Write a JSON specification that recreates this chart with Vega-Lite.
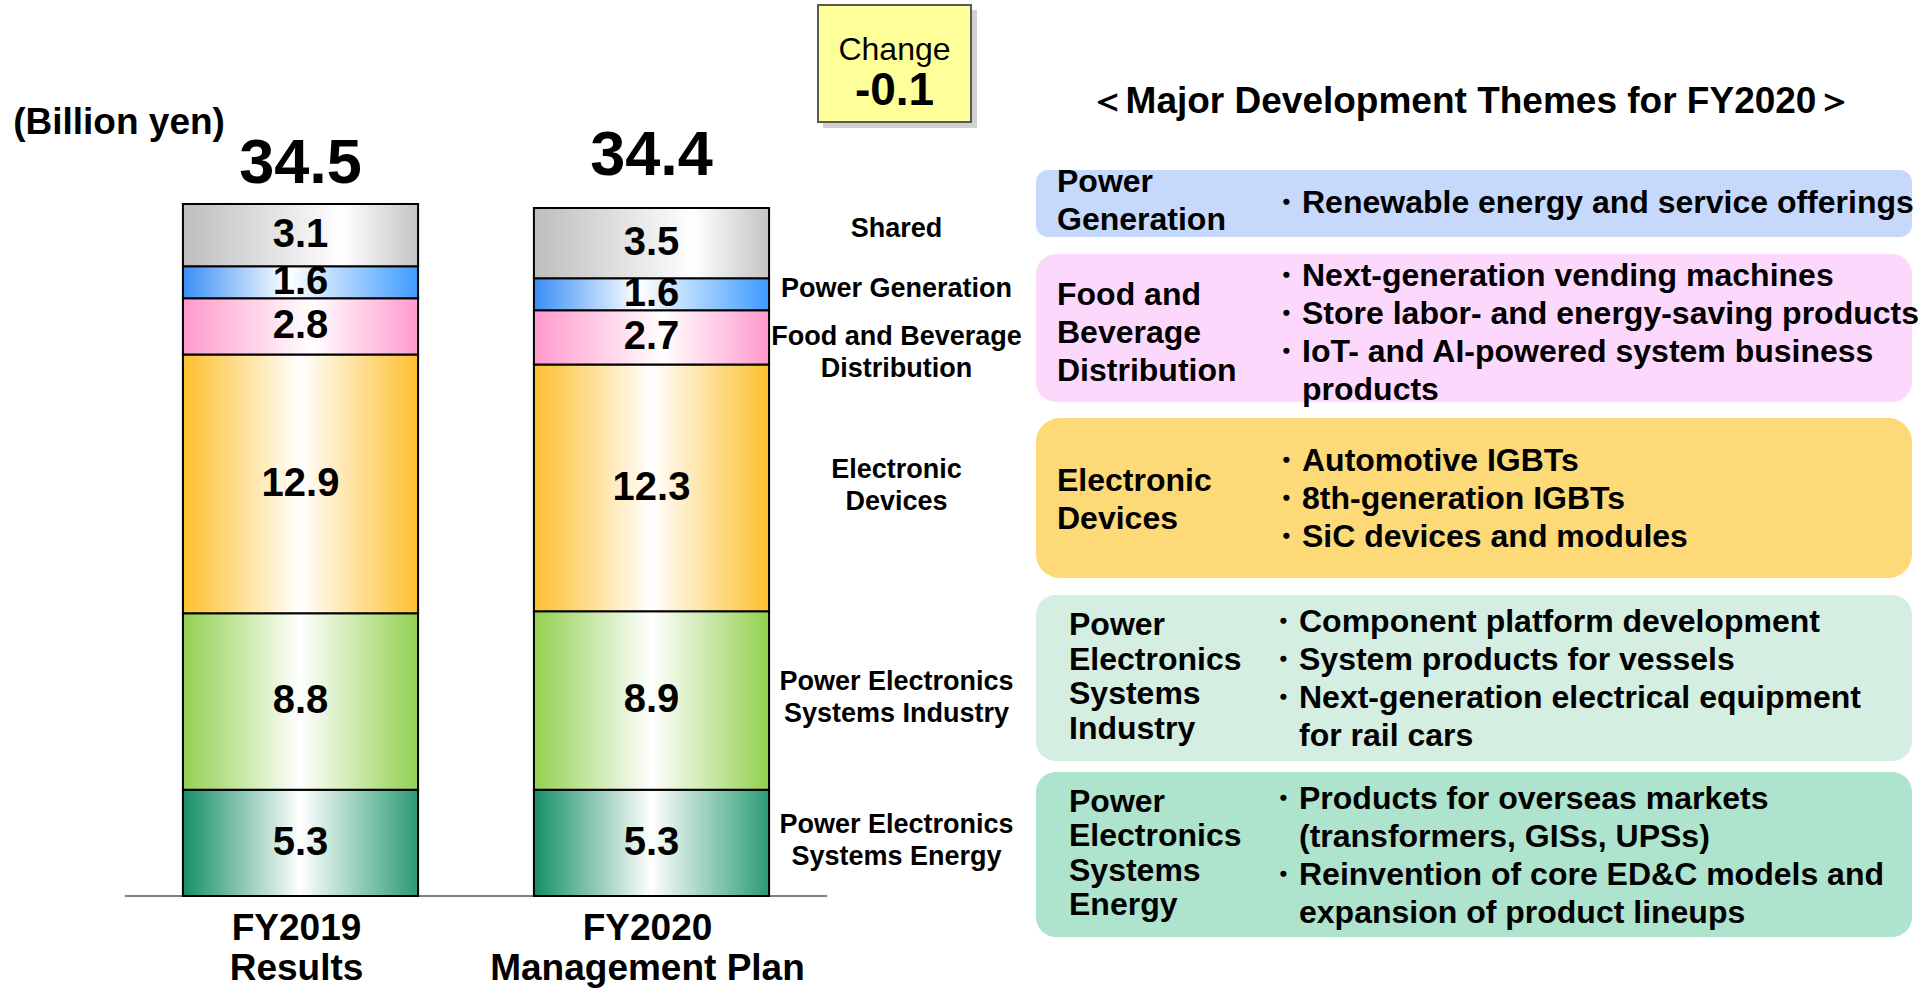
{
  "$schema": "https://vega.github.io/schema/vega-lite/v6.json",
  "width": 1927,
  "height": 993,
  "autosize": {"type": "none"},
  "padding": 0,
  "background": "#ffffff",
  "config": {"view": {"stroke": null}, "font": "Liberation Sans", "text": {"font": "Liberation Sans", "color": "#000000"}},
  "datasets": {
    "segments": [
      {"year": "FY2019 Results", "seg": "Power Electronics\nSystems Energy", "ord": 1, "value": 5.3},
      {"year": "FY2019 Results", "seg": "Power Electronics\nSystems Industry", "ord": 2, "value": 8.8},
      {"year": "FY2019 Results", "seg": "Electronic\nDevices", "ord": 3, "value": 12.9},
      {"year": "FY2019 Results", "seg": "Food and Beverage\nDistribution", "ord": 4, "value": 2.8},
      {"year": "FY2019 Results", "seg": "Power Generation", "ord": 5, "value": 1.6},
      {"year": "FY2019 Results", "seg": "Shared", "ord": 6, "value": 3.1},
      {"year": "FY2020 Management Plan", "seg": "Power Electronics\nSystems Energy", "ord": 1, "value": 5.3},
      {"year": "FY2020 Management Plan", "seg": "Power Electronics\nSystems Industry", "ord": 2, "value": 8.9},
      {"year": "FY2020 Management Plan", "seg": "Electronic\nDevices", "ord": 3, "value": 12.3},
      {"year": "FY2020 Management Plan", "seg": "Food and Beverage\nDistribution", "ord": 4, "value": 2.7},
      {"year": "FY2020 Management Plan", "seg": "Power Generation", "ord": 5, "value": 1.6},
      {"year": "FY2020 Management Plan", "seg": "Shared", "ord": 6, "value": 3.5}
    ],
    "totals": [
      {"year": "FY2019 Results", "caption": "FY2019\nResults", "total": 34.5},
      {"year": "FY2020 Management Plan", "caption": "FY2020\nManagement Plan", "total": 34.4}
    ],
    "units": [{"unit": "(Billion yen)", "baseline": 0}],
    "change": [{"label": "Change", "diff": "-0.1"}],
    "themes": [
      {"theme": "Power Generation", "heading": "＜Major Development Themes for FY2020＞", "label": "Power\nGeneration", "items": "・Renewable energy and service offerings"},
      {"theme": "Food and Beverage Distribution", "heading": "", "label": "Food and\nBeverage\nDistribution", "items": "・Next-generation vending machines\n・Store labor- and energy-saving products\n・IoT- and AI-powered system business\n\u200b\u3000products"},
      {"theme": "Electronic Devices", "heading": "", "label": "Electronic\nDevices", "items": "・Automotive IGBTs\n・8th-generation IGBTs\n・SiC devices and modules"},
      {"theme": "Power Electronics Systems Industry", "heading": "", "label": "Power\nElectronics\nSystems\nIndustry", "items": "・Component platform development\n・System products for vessels\n・Next-generation electrical equipment\n\u200b\u3000for rail cars"},
      {"theme": "Power Electronics Systems Energy", "heading": "", "label": "Power\nElectronics\nSystems\nEnergy", "items": "・Products for overseas markets\n\u200b\u3000(transformers, GISs, UPSs)\n・Reinvention of core ED&C models and\n\u200b\u3000expansion of product lineups"}
    ]
  },
  "resolve": {"scale": {"x": "independent", "y": "independent"}},
  "layer": [
    {
      "layer": [
        {
          "data": {"name": "units"},
          "mark": {"type": "rule", "stroke": "#808080", "strokeWidth": 2},
          "encoding": {
            "x": {"datum": "FY2019 Results", "type": "nominal", "bandPosition": -0.247, "scale": {"type": "band", "domain": ["FY2019 Results", "FY2020 Management Plan"], "range": [125, 827], "paddingInner": 0.33, "paddingOuter": 0.165}, "axis": null},
            "x2": {"datum": "FY2020 Management Plan", "bandPosition": 1.247},
            "y": {"field": "baseline", "type": "quantitative", "scale": {"type": "linear", "domain": [0, 34.5], "range": [896, 204], "nice": false, "zero": true}, "axis": null}
          }
        },
        {
          "data": {"name": "segments"},
          "transform": [{"stack": "value", "groupby": ["year"], "sort": [{"field": "ord", "order": "ascending"}], "as": ["lo", "hi"]}],
          "mark": {"type": "bar", "stroke": "#000000", "strokeWidth": 2},
          "encoding": {
            "x": {"field": "year", "type": "nominal", "scale": {"type": "band", "domain": ["FY2019 Results", "FY2020 Management Plan"], "range": [125, 827], "paddingInner": 0.33, "paddingOuter": 0.165}, "axis": null},
            "y": {"field": "lo", "type": "quantitative", "scale": {"type": "linear", "domain": [0, 34.5], "range": [896, 204], "nice": false, "zero": true}, "axis": null},
            "y2": {"field": "hi"},
            "fill": {
              "condition": [
                {"test": "datum.ord === 1", "value": {"gradient": "linear", "x1": 0, "y1": 0, "x2": 1, "y2": 0, "stops": [{"offset": 0, "color": "#148e68"}, {"offset": 0.5, "color": "#ffffff"}, {"offset": 1, "color": "#2a9a76"}]}},
                {"test": "datum.ord === 2", "value": {"gradient": "linear", "x1": 0, "y1": 0, "x2": 1, "y2": 0, "stops": [{"offset": 0, "color": "#92d050"}, {"offset": 0.5, "color": "#ffffff"}, {"offset": 1, "color": "#92d050"}]}},
                {"test": "datum.ord === 3", "value": {"gradient": "linear", "x1": 0, "y1": 0, "x2": 1, "y2": 0, "stops": [{"offset": 0, "color": "#fdbf2d"}, {"offset": 0.5, "color": "#ffffff"}, {"offset": 1, "color": "#fdbf2d"}]}},
                {"test": "datum.ord === 4", "value": {"gradient": "linear", "x1": 0, "y1": 0, "x2": 1, "y2": 0, "stops": [{"offset": 0, "color": "#ff99cc"}, {"offset": 0.55, "color": "#ffffff"}, {"offset": 1, "color": "#ff99cc"}]}},
                {"test": "datum.ord === 5", "value": {"gradient": "linear", "x1": 0, "y1": 0, "x2": 1, "y2": 0, "stops": [{"offset": 0, "color": "#3a8ef6"}, {"offset": 0.45, "color": "#ffffff"}, {"offset": 1, "color": "#3d9bff"}]}},
                {"test": "datum.ord === 6", "value": {"gradient": "linear", "x1": 0, "y1": 0, "x2": 1, "y2": 0, "stops": [{"offset": 0, "color": "#bdbdbd"}, {"offset": 0.68, "color": "#ffffff"}, {"offset": 1, "color": "#c4c4c4"}]}}
              ],
              "value": "#cccccc"
            }
          }
        },
        {
          "data": {"name": "segments"},
          "transform": [
            {"stack": "value", "groupby": ["year"], "sort": [{"field": "ord", "order": "ascending"}], "as": ["lo", "hi"]},
            {"fold": ["lo", "hi"], "as": ["edge", "pos"]}
          ],
          "mark": {"type": "text", "fontSize": 40, "fontWeight": "bold", "align": "center", "baseline": "middle"},
          "encoding": {
            "x": {"field": "year", "type": "nominal", "scale": {"type": "band", "domain": ["FY2019 Results", "FY2020 Management Plan"], "range": [125, 827], "paddingInner": 0.33, "paddingOuter": 0.165}, "axis": null},
            "y": {"aggregate": "mean", "field": "pos", "type": "quantitative", "stack": null, "scale": {"type": "linear", "domain": [0, 34.5], "range": [896, 204], "nice": false, "zero": true}, "axis": null},
            "detail": {"field": "ord", "type": "ordinal"},
            "text": {"field": "value", "type": "quantitative", "format": ".1f"}
          }
        },
        {
          "data": {"name": "segments"},
          "transform": [
            {"filter": "datum.year === 'FY2020 Management Plan'"},
            {"stack": "value", "groupby": ["year"], "sort": [{"field": "ord", "order": "ascending"}], "as": ["lo", "hi"]},
            {"fold": ["lo", "hi"], "as": ["edge", "pos"]},
            {"filter": "datum.ord === 6"}
          ],
          "mark": {"type": "text", "fontSize": 27, "fontWeight": "bold", "align": "center", "baseline": "middle", "lineBreak": "\n", "lineHeight": 32, "dx": 245, "dy": -14},
          "encoding": {
            "x": {"field": "year", "type": "nominal", "scale": {"type": "band", "domain": ["FY2019 Results", "FY2020 Management Plan"], "range": [125, 827], "paddingInner": 0.33, "paddingOuter": 0.165}, "axis": null},
            "y": {"aggregate": "mean", "field": "pos", "type": "quantitative", "stack": null, "scale": {"type": "linear", "domain": [0, 34.5], "range": [896, 204], "nice": false, "zero": true}, "axis": null},
            "detail": {"field": "ord", "type": "ordinal"},
            "text": {"field": "seg", "type": "nominal"}
          }
        },
        {
          "data": {"name": "segments"},
          "transform": [
            {"filter": "datum.year === 'FY2020 Management Plan'"},
            {"stack": "value", "groupby": ["year"], "sort": [{"field": "ord", "order": "ascending"}], "as": ["lo", "hi"]},
            {"fold": ["lo", "hi"], "as": ["edge", "pos"]},
            {"filter": "datum.ord === 5"}
          ],
          "mark": {"type": "text", "fontSize": 27, "fontWeight": "bold", "align": "center", "baseline": "middle", "lineBreak": "\n", "lineHeight": 32, "dx": 245, "dy": -5},
          "encoding": {
            "x": {"field": "year", "type": "nominal", "scale": {"type": "band", "domain": ["FY2019 Results", "FY2020 Management Plan"], "range": [125, 827], "paddingInner": 0.33, "paddingOuter": 0.165}, "axis": null},
            "y": {"aggregate": "mean", "field": "pos", "type": "quantitative", "stack": null, "scale": {"type": "linear", "domain": [0, 34.5], "range": [896, 204], "nice": false, "zero": true}, "axis": null},
            "detail": {"field": "ord", "type": "ordinal"},
            "text": {"field": "seg", "type": "nominal"}
          }
        },
        {
          "data": {"name": "segments"},
          "transform": [
            {"filter": "datum.year === 'FY2020 Management Plan'"},
            {"stack": "value", "groupby": ["year"], "sort": [{"field": "ord", "order": "ascending"}], "as": ["lo", "hi"]},
            {"fold": ["lo", "hi"], "as": ["edge", "pos"]},
            {"filter": "datum.ord === 4"}
          ],
          "mark": {"type": "text", "fontSize": 27, "fontWeight": "bold", "align": "center", "baseline": "middle", "lineBreak": "\n", "lineHeight": 32, "dx": 245, "dy": 0},
          "encoding": {
            "x": {"field": "year", "type": "nominal", "scale": {"type": "band", "domain": ["FY2019 Results", "FY2020 Management Plan"], "range": [125, 827], "paddingInner": 0.33, "paddingOuter": 0.165}, "axis": null},
            "y": {"aggregate": "mean", "field": "pos", "type": "quantitative", "stack": null, "scale": {"type": "linear", "domain": [0, 34.5], "range": [896, 204], "nice": false, "zero": true}, "axis": null},
            "detail": {"field": "ord", "type": "ordinal"},
            "text": {"field": "seg", "type": "nominal"}
          }
        },
        {
          "data": {"name": "segments"},
          "transform": [
            {"filter": "datum.year === 'FY2020 Management Plan'"},
            {"stack": "value", "groupby": ["year"], "sort": [{"field": "ord", "order": "ascending"}], "as": ["lo", "hi"]},
            {"fold": ["lo", "hi"], "as": ["edge", "pos"]},
            {"filter": "datum.ord <= 3"}
          ],
          "mark": {"type": "text", "fontSize": 27, "fontWeight": "bold", "align": "center", "baseline": "middle", "lineBreak": "\n", "lineHeight": 32, "dx": 245, "dy": -18},
          "encoding": {
            "x": {"field": "year", "type": "nominal", "scale": {"type": "band", "domain": ["FY2019 Results", "FY2020 Management Plan"], "range": [125, 827], "paddingInner": 0.33, "paddingOuter": 0.165}, "axis": null},
            "y": {"aggregate": "mean", "field": "pos", "type": "quantitative", "stack": null, "scale": {"type": "linear", "domain": [0, 34.5], "range": [896, 204], "nice": false, "zero": true}, "axis": null},
            "detail": {"field": "ord", "type": "ordinal"},
            "text": {"field": "seg", "type": "nominal"}
          }
        },
        {
          "data": {"name": "totals"},
          "transform": [{"filter": "datum.total > 34.45"}],
          "mark": {"type": "text", "fontSize": 63, "fontWeight": "bold", "align": "center", "baseline": "alphabetic", "dy": -21},
          "encoding": {
            "x": {"field": "year", "type": "nominal", "scale": {"type": "band", "domain": ["FY2019 Results", "FY2020 Management Plan"], "range": [125, 827], "paddingInner": 0.33, "paddingOuter": 0.165}, "axis": null},
            "y": {"field": "total", "type": "quantitative", "stack": null, "scale": {"type": "linear", "domain": [0, 34.5], "range": [896, 204], "nice": false, "zero": true}, "axis": null},
            "text": {"field": "total", "type": "quantitative", "format": ".1f"}
          }
        },
        {
          "data": {"name": "totals"},
          "transform": [{"filter": "datum.total <= 34.45"}],
          "mark": {"type": "text", "fontSize": 63, "fontWeight": "bold", "align": "center", "baseline": "alphabetic", "dy": -31},
          "encoding": {
            "x": {"field": "year", "type": "nominal", "scale": {"type": "band", "domain": ["FY2019 Results", "FY2020 Management Plan"], "range": [125, 827], "paddingInner": 0.33, "paddingOuter": 0.165}, "axis": null},
            "y": {"field": "total", "type": "quantitative", "stack": null, "scale": {"type": "linear", "domain": [0, 34.5], "range": [896, 204], "nice": false, "zero": true}, "axis": null},
            "text": {"field": "total", "type": "quantitative", "format": ".1f"}
          }
        },
        {
          "data": {"name": "totals"},
          "mark": {"type": "text", "fontSize": 37, "fontWeight": "bold", "align": "center", "baseline": "middle", "lineBreak": "\n", "lineHeight": 40, "dx": -4, "dy": 33},
          "encoding": {
            "x": {"field": "year", "type": "nominal", "scale": {"type": "band", "domain": ["FY2019 Results", "FY2020 Management Plan"], "range": [125, 827], "paddingInner": 0.33, "paddingOuter": 0.165}, "axis": null},
            "y": {"datum": 0, "type": "quantitative", "scale": {"type": "linear", "domain": [0, 34.5], "range": [896, 204], "nice": false, "zero": true}, "axis": null},
            "text": {"field": "caption", "type": "nominal"}
          }
        },
        {
          "data": {"name": "units"},
          "mark": {"type": "text", "fontSize": 37, "fontWeight": "bold", "align": "right", "baseline": "middle", "dx": 42, "dy": -81},
          "encoding": {
            "x": {"datum": "FY2019 Results", "type": "nominal", "bandPosition": 0, "scale": {"type": "band", "domain": ["FY2019 Results", "FY2020 Management Plan"], "range": [125, 827], "paddingInner": 0.33, "paddingOuter": 0.165}, "axis": null},
            "y": {"datum": 34.5, "type": "quantitative", "scale": {"type": "linear", "domain": [0, 34.5], "range": [896, 204], "nice": false, "zero": true}, "axis": null},
            "text": {"field": "unit", "type": "nominal"}
          }
        }
      ]
    },
    {
      "data": {"name": "change"},
      "mark": {"type": "rect", "fill": "#9a9a9a", "opacity": 0.45},
      "encoding": {
        "x": {"datum": 0, "type": "quantitative", "scale": {"domain": [0, 1], "range": [823, 977]}, "axis": null},
        "x2": {"datum": 1},
        "y": {"datum": 0, "type": "quantitative", "scale": {"domain": [0, 1], "range": [128, 10]}, "axis": null},
        "y2": {"datum": 1}
      }
    },
    {
      "data": {"name": "change"},
      "layer": [
        {
          "mark": {"type": "rect", "fill": "#ffff99", "stroke": "#595959", "strokeWidth": 2},
          "encoding": {
            "x": {"datum": 0, "type": "quantitative", "scale": {"domain": [0, 1], "range": [818, 971]}, "axis": null},
            "x2": {"datum": 1},
            "y": {"datum": 0, "type": "quantitative", "scale": {"domain": [0, 1], "range": [122, 5]}, "axis": null},
            "y2": {"datum": 1}
          }
        },
        {
          "mark": {"type": "text", "fontSize": 32, "align": "center", "baseline": "middle", "dy": -14},
          "encoding": {
            "x": {"datum": 0.5, "type": "quantitative", "scale": {"domain": [0, 1], "range": [818, 971]}, "axis": null},
            "y": {"datum": 0.5, "type": "quantitative", "scale": {"domain": [0, 1], "range": [122, 5]}, "axis": null},
            "text": {"field": "label", "type": "nominal"}
          }
        },
        {
          "mark": {"type": "text", "fontSize": 46, "fontWeight": "bold", "align": "center", "baseline": "middle", "dy": 27},
          "encoding": {
            "x": {"datum": 0.5, "type": "quantitative", "scale": {"domain": [0, 1], "range": [818, 971]}, "axis": null},
            "y": {"datum": 0.5, "type": "quantitative", "scale": {"domain": [0, 1], "range": [122, 5]}, "axis": null},
            "text": {"field": "diff", "type": "nominal"}
          }
        }
      ]
    },
    {
      "data": {"name": "themes"},
      "transform": [{"filter": "datum.theme === 'Power Generation'"}],
      "layer": [
        {"mark": {"type": "rect", "fill": "#c6d9fc", "cornerRadius": 12},
         "encoding": {"x": {"datum": 0, "type": "quantitative", "scale": {"domain": [0, 1], "range": [1036, 1912]}, "axis": null}, "x2": {"datum": 1},
                      "y": {"datum": 0, "type": "quantitative", "scale": {"domain": [0, 1], "range": [237, 170]}, "axis": null}, "y2": {"datum": 1}}},
        {"mark": {"type": "text", "fontSize": 37, "fontWeight": "bold", "align": "center", "baseline": "middle", "dx": -3, "dy": -68},
         "encoding": {"x": {"datum": 0.5, "type": "quantitative", "scale": {"domain": [0, 1], "range": [1036, 1912]}, "axis": null},
                      "y": {"datum": 1, "type": "quantitative", "scale": {"domain": [0, 1], "range": [237, 170]}, "axis": null}, "text": {"field": "heading", "type": "nominal"}}},
        {"mark": {"type": "text", "fontSize": 32, "fontWeight": "bold", "align": "left", "baseline": "middle", "lineBreak": "\n", "lineHeight": 38, "dx": 21, "dy": -22},
         "encoding": {"x": {"datum": 0, "type": "quantitative", "scale": {"domain": [0, 1], "range": [1036, 1912]}, "axis": null},
                      "y": {"datum": 0.5, "type": "quantitative", "scale": {"domain": [0, 1], "range": [237, 170]}, "axis": null}, "text": {"field": "label", "type": "nominal"}}},
        {"mark": {"type": "text", "fontSize": 32, "fontWeight": "bold", "align": "left", "baseline": "middle", "lineBreak": "\n", "lineHeight": 38, "dx": 234, "dy": -1},
         "encoding": {"x": {"datum": 0, "type": "quantitative", "scale": {"domain": [0, 1], "range": [1036, 1912]}, "axis": null},
                      "y": {"datum": 0.5, "type": "quantitative", "scale": {"domain": [0, 1], "range": [237, 170]}, "axis": null}, "text": {"field": "items", "type": "nominal"}}}
      ]
    },
    {
      "data": {"name": "themes"},
      "transform": [{"filter": "datum.theme === 'Food and Beverage Distribution'"}],
      "layer": [
        {"mark": {"type": "rect", "fill": "#fdd8fd", "cornerRadius": 20},
         "encoding": {"x": {"datum": 0, "type": "quantitative", "scale": {"domain": [0, 1], "range": [1036, 1912]}, "axis": null}, "x2": {"datum": 1},
                      "y": {"datum": 0, "type": "quantitative", "scale": {"domain": [0, 1], "range": [402, 254]}, "axis": null}, "y2": {"datum": 1}}},
        {"mark": {"type": "text", "fontSize": 32, "fontWeight": "bold", "align": "left", "baseline": "middle", "lineBreak": "\n", "lineHeight": 38, "dx": 21, "dy": -33},
         "encoding": {"x": {"datum": 0, "type": "quantitative", "scale": {"domain": [0, 1], "range": [1036, 1912]}, "axis": null},
                      "y": {"datum": 0.5, "type": "quantitative", "scale": {"domain": [0, 1], "range": [402, 254]}, "axis": null}, "text": {"field": "label", "type": "nominal"}}},
        {"mark": {"type": "text", "fontSize": 32, "fontWeight": "bold", "align": "left", "baseline": "middle", "lineBreak": "\n", "lineHeight": 38, "dx": 234, "dy": -52},
         "encoding": {"x": {"datum": 0, "type": "quantitative", "scale": {"domain": [0, 1], "range": [1036, 1912]}, "axis": null},
                      "y": {"datum": 0.5, "type": "quantitative", "scale": {"domain": [0, 1], "range": [402, 254]}, "axis": null}, "text": {"field": "items", "type": "nominal"}}}
      ]
    },
    {
      "data": {"name": "themes"},
      "transform": [{"filter": "datum.theme === 'Electronic Devices'"}],
      "layer": [
        {"mark": {"type": "rect", "fill": "#fdd978", "cornerRadius": 24},
         "encoding": {"x": {"datum": 0, "type": "quantitative", "scale": {"domain": [0, 1], "range": [1036, 1912]}, "axis": null}, "x2": {"datum": 1},
                      "y": {"datum": 0, "type": "quantitative", "scale": {"domain": [0, 1], "range": [578, 418]}, "axis": null}, "y2": {"datum": 1}}},
        {"mark": {"type": "text", "fontSize": 32, "fontWeight": "bold", "align": "left", "baseline": "middle", "lineBreak": "\n", "lineHeight": 38, "dx": 21, "dy": -17},
         "encoding": {"x": {"datum": 0, "type": "quantitative", "scale": {"domain": [0, 1], "range": [1036, 1912]}, "axis": null},
                      "y": {"datum": 0.5, "type": "quantitative", "scale": {"domain": [0, 1], "range": [578, 418]}, "axis": null}, "text": {"field": "label", "type": "nominal"}}},
        {"mark": {"type": "text", "fontSize": 32, "fontWeight": "bold", "align": "left", "baseline": "middle", "lineBreak": "\n", "lineHeight": 38, "dx": 234, "dy": -37},
         "encoding": {"x": {"datum": 0, "type": "quantitative", "scale": {"domain": [0, 1], "range": [1036, 1912]}, "axis": null},
                      "y": {"datum": 0.5, "type": "quantitative", "scale": {"domain": [0, 1], "range": [578, 418]}, "axis": null}, "text": {"field": "items", "type": "nominal"}}}
      ]
    },
    {
      "data": {"name": "themes"},
      "transform": [{"filter": "datum.theme === 'Power Electronics Systems Industry'"}],
      "layer": [
        {"mark": {"type": "rect", "fill": "#d5eee2", "cornerRadius": 20},
         "encoding": {"x": {"datum": 0, "type": "quantitative", "scale": {"domain": [0, 1], "range": [1036, 1912]}, "axis": null}, "x2": {"datum": 1},
                      "y": {"datum": 0, "type": "quantitative", "scale": {"domain": [0, 1], "range": [761, 595]}, "axis": null}, "y2": {"datum": 1}}},
        {"mark": {"type": "text", "fontSize": 32, "fontWeight": "bold", "align": "left", "baseline": "middle", "lineBreak": "\n", "lineHeight": 34.5, "dx": 33, "dy": -53},
         "encoding": {"x": {"datum": 0, "type": "quantitative", "scale": {"domain": [0, 1], "range": [1036, 1912]}, "axis": null},
                      "y": {"datum": 0.5, "type": "quantitative", "scale": {"domain": [0, 1], "range": [761, 595]}, "axis": null}, "text": {"field": "label", "type": "nominal"}}},
        {"mark": {"type": "text", "fontSize": 32, "fontWeight": "bold", "align": "left", "baseline": "middle", "lineBreak": "\n", "lineHeight": 38, "dx": 231, "dy": -56},
         "encoding": {"x": {"datum": 0, "type": "quantitative", "scale": {"domain": [0, 1], "range": [1036, 1912]}, "axis": null},
                      "y": {"datum": 0.5, "type": "quantitative", "scale": {"domain": [0, 1], "range": [761, 595]}, "axis": null}, "text": {"field": "items", "type": "nominal"}}}
      ]
    },
    {
      "data": {"name": "themes"},
      "transform": [{"filter": "datum.theme === 'Power Electronics Systems Energy'"}],
      "layer": [
        {"mark": {"type": "rect", "fill": "#aee3cd", "cornerRadius": 20},
         "encoding": {"x": {"datum": 0, "type": "quantitative", "scale": {"domain": [0, 1], "range": [1036, 1912]}, "axis": null}, "x2": {"datum": 1},
                      "y": {"datum": 0, "type": "quantitative", "scale": {"domain": [0, 1], "range": [937, 772]}, "axis": null}, "y2": {"datum": 1}}},
        {"mark": {"type": "text", "fontSize": 32, "fontWeight": "bold", "align": "left", "baseline": "middle", "lineBreak": "\n", "lineHeight": 34.5, "dx": 33, "dy": -53},
         "encoding": {"x": {"datum": 0, "type": "quantitative", "scale": {"domain": [0, 1], "range": [1036, 1912]}, "axis": null},
                      "y": {"datum": 0.5, "type": "quantitative", "scale": {"domain": [0, 1], "range": [937, 772]}, "axis": null}, "text": {"field": "label", "type": "nominal"}}},
        {"mark": {"type": "text", "fontSize": 32, "fontWeight": "bold", "align": "left", "baseline": "middle", "lineBreak": "\n", "lineHeight": 38, "dx": 231, "dy": -56},
         "encoding": {"x": {"datum": 0, "type": "quantitative", "scale": {"domain": [0, 1], "range": [1036, 1912]}, "axis": null},
                      "y": {"datum": 0.5, "type": "quantitative", "scale": {"domain": [0, 1], "range": [937, 772]}, "axis": null}, "text": {"field": "items", "type": "nominal"}}}
      ]
    }
  ]
}
